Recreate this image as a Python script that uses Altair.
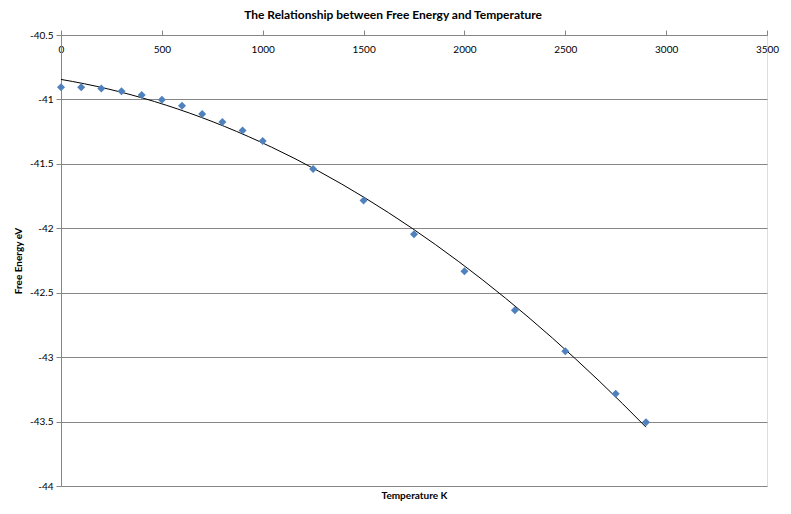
import altair as alt
import pandas as pd

temperature = [0, 100, 200, 300, 400, 500, 600, 700, 800, 900, 1000,
               1250, 1500, 1750, 2000, 2250, 2500, 2750, 2900]
free_energy = [-40.905, -40.905, -40.915, -40.936, -40.966, -41.003, -41.05,
               -41.113, -41.175, -41.242, -41.322, -41.54, -41.785, -42.046,
               -42.333, -42.636, -42.954, -43.285, -43.505]

x_ticks = [0, 500, 1000, 1500, 2000, 2500, 3000, 3500]
y_ticks = [-40.5, -41, -41.5, -42, -42.5, -43, -43.5, -44]

df = pd.DataFrame({"T": temperature, "G": free_energy})

FONT = "Lato"
GRID = "#868686"
W, H = 706, 451

x_scale = alt.Scale(domain=[0, 3500], nice=False, zero=False)
y_scale = alt.Scale(domain=[-44, -40.5], nice=False, zero=False)

x_axis = alt.Axis(
    orient="top", values=x_ticks, format="d", grid=False,
    domainColor=GRID, tickColor=GRID, tickSize=5,
    labelBaseline="top", labelPadding=-14, labelFont=FONT, labelFontSize=10,
    labelColor="#000000", labelFlush=False,
    title="Temperature K", titleFont=FONT, titleFontSize=10, titleFontWeight="bold",
    titleColor="#000000", titleX=W / 2, titleY=H + 9, titleBaseline="middle",
    titleAlign="center",
)
y_axis = alt.Axis(
    orient="left", values=y_ticks, labelExpr="'' + datum.value",
    grid=True, gridColor=GRID, gridWidth=1,
    domainColor=GRID, tickColor=GRID, tickSize=5, labelPadding=3,
    labelFont=FONT, labelFontSize=10, labelColor="#000000",
    title="Free Energy eV", titleFont=FONT, titleFontSize=10,
    titleFontWeight="bold", titleColor="#000000", titleAngle=-90,
    titleX=-43, titleY=H / 2, titleAlign="center", titleBaseline="middle",
)

base = alt.Chart(df)

points = base.mark_point(
    shape="diamond", filled=True, size=64, color="#4F81BD", opacity=1
).encode(
    x=alt.X("T:Q", scale=x_scale, axis=x_axis),
    y=alt.Y("G:Q", scale=y_scale, axis=y_axis),
)

trend = base.transform_regression(
    "T", "G", method="poly", order=2, extent=[0, 2900]
).mark_line(color="#000000", strokeWidth=1).encode(
    x=alt.X("T:Q", scale=x_scale),
    y=alt.Y("G:Q", scale=y_scale),
)

chart = alt.layer(trend, points).properties(
    width=W, height=H,
    autosize=alt.AutoSizeParams(type="none"),
    padding={"left": 53, "top": 27, "right": 14, "bottom": 16},
    title=alt.TitleParams(
        "The Relationship between Free Energy and Temperature",
        font=FONT, fontSize=12, fontWeight="bold", color="#000000",
        anchor="middle", dx=-21, offset=8,
    ),
).configure_view(stroke=None).configure(background="#ffffff")

chart.save("out.html", embed_options={"renderer": "svg", "actions": False})
